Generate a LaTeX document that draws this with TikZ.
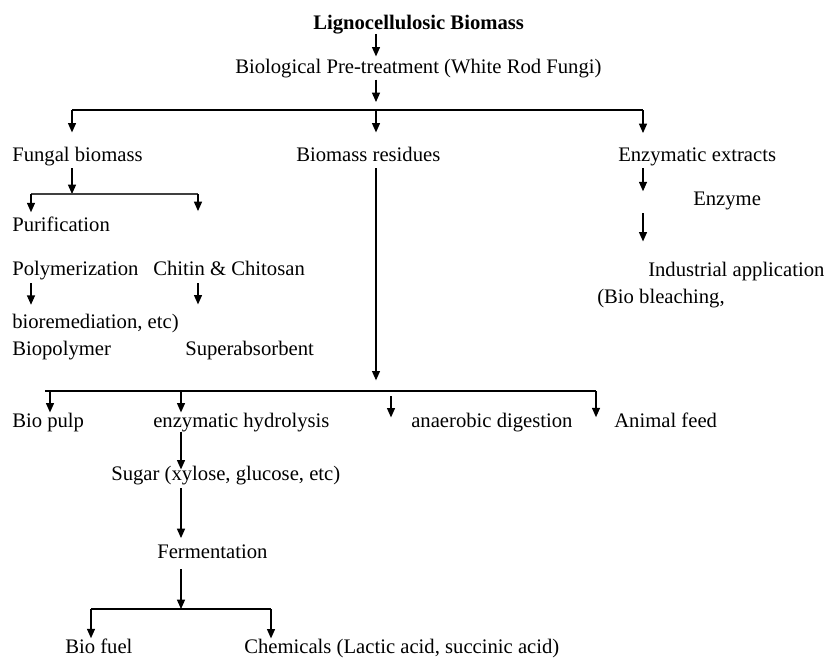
\documentclass[tikz,border=0pt]{standalone}
\usepackage{fontspec}
\setmainfont{Liberation Serif}
\usetikzlibrary{arrows.meta}

\tikzset{
  txt/.style={anchor=base west,inner sep=0pt,font=\fontsize{15.5}{18}\selectfont},
  arr/.style={-{Triangle[width=6pt,length=7pt]},line width=0.9pt},
  bar/.style={line width=0.9pt}
}

\begin{document}
\begin{tikzpicture}[x=0.75pt,y=0.75pt,yscale=-1,xscale=1]
\useasboundingbox (0,0) rectangle (827,658);

% Text Node
\node (lig) at (313,29) [txt,font=\fontsize{15.5}{18}\selectfont\bfseries] {Lignocellulosic Biomass};
% Text Node
\node (bpt) at (235,73) [txt] {Biological Pre-treatment (White Rod Fungi)};
% Text Node
\node (fb) at (12,161) [txt] {Fungal biomass};
% Text Node
\node (br) at (296,161) [txt] {Biomass residues};
% Text Node
\node (ee) at (618,161) [txt] {Enzymatic extracts};
% Text Node
\node (pur) at (12,231) [txt] {Purification};
% Text Node
\node (poly) at (12,275) [txt] {Polymerization};
% Text Node
\node (cc) at (153,275) [txt] {Chitin \& Chitosan};
% Text Node
\node (biorem) at (12,328) [txt] {bioremediation, etc)};
% Text Node
\node (bpoly) at (12,355) [txt] {Biopolymer};
% Text Node
\node (sup) at (185,355) [txt] {Superabsorbent};
% Text Node
\node (enz) at (693,205) [txt] {Enzyme};
% Text Node
\node (ind) at (648,276) [txt] {Industrial application};
% Text Node
\node (bleach) at (597,303) [txt] {(Bio bleaching,};
% Text Node
\node (bp) at (12,427) [txt] {Bio pulp};
% Text Node
\node (eh) at (153,427) [txt] {enzymatic hydrolysis};
% Text Node
\node (ad) at (411,427) [txt] {anaerobic digestion};
% Text Node
\node (af) at (614,427) [txt] {Animal feed};
% Text Node
\node (sug) at (111,480) [txt] {Sugar (xylose, glucose, etc)};
% Text Node
\node (ferm) at (157,558) [txt] {Fermentation};
% Text Node
\node (bf) at (65,653) [txt] {Bio fuel};
% Text Node
\node (chem) at (244,653) [txt] {Chemicals (Lactic acid, succinic acid)};

% branch points
\coordinate (cL) at (72,110);
\coordinate (cM) at (376,110);
\coordinate (cR) at (643,110);
\coordinate (fS) at (72,194);
\coordinate (fL) at (31,194);
\coordinate (fR) at (198,194);
\coordinate (rS) at (376,391);
\coordinate (rL) at (45,391);
\coordinate (rA) at (50,391);
\coordinate (rB) at (181,391);
\coordinate (rC) at (391,391);
\coordinate (rR) at (596,391);
\coordinate (mS) at (181,609);
\coordinate (mL) at (91,609);
\coordinate (mR) at (271,609);

%Straight Lines
\draw[arr,shorten >=1.5pt] (lig.south -| cM) -- (bpt.north -| cM);
\draw[arr,shorten <=1.5pt,shorten >=6pt] (bpt.south -| cM) -- (cM);
\draw[bar] (cL) -- (cR);
\draw[arr,shorten >=10.5pt] (cL) -- (cL |- fb.north);
\draw[arr,shorten >=10.5pt] (cM) -- (cM |- br.north);
\draw[arr,shorten >=10.5pt] (cR) -- (cR |- ee.north);

%Straight Lines
\draw[arr,shorten <=2pt] (fb.south -| fS) -- (fS);
\draw[bar,draw=black!75,line width=1.1pt] (fL) -- (fR);
\draw[arr,shorten >=3pt] (fL) -- (fL |- pur.north);
\draw[arr,shorten >=37pt] (fR) -- (fR |- cc.north);
\draw[arr,shorten <=2.5pt,shorten >=6.5pt] (poly.south -| fL) -- (biorem.north -| fL);
\draw[arr,shorten <=6pt,shorten >=27pt] (cc.south -| fR) -- (sup.north -| fR);

%Straight Lines
\draw[arr,shorten <=2pt] (ee.south -| cR) -- (enz.north -| cR);
\draw[arr,shorten <=2.6pt,shorten >=15pt] (enz.south -| cR) -- (ind.north -| cR);

%Straight Lines
\draw[arr,shorten <=5pt,shorten >=8pt] (br.south -| rS) -- (rS);
\draw[bar] (rL) -- (rR);
\draw[arr] (rA) -- (rA |- bp.north);
\draw[arr] (rB) -- (rB |- eh.north);
\draw[arr,shorten <=3.75pt,shorten >=-3.75pt] (rC) -- (rC |- ad.north);
\draw[arr,shorten >=-3.75pt] (rR) -- (rR |- af.north);

%Straight Lines
\draw[arr,shorten >=-3pt] (eh.south -| rB) -- (sug.north -| rB);
\draw[arr,shorten <=2.6pt,shorten >=4.5pt] (sug.south -| rB) -- (ferm.north -| rB);
\draw[arr,shorten <=8pt] (ferm.south -| mS) -- (mS);
\draw[bar] (mL) -- (mR);
\draw[arr] (mL) -- (mL |- bf.north);
\draw[arr] (mR) -- (mR |- chem.north);

\end{tikzpicture}
\end{document}
